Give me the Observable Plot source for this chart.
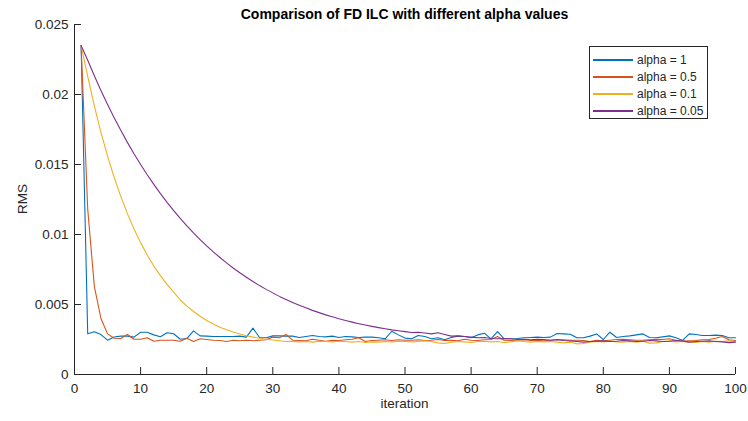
<!DOCTYPE html>
<html>
<head>
<meta charset="utf-8">
<script src="https://cdn.jsdelivr.net/npm/d3@7"></script>
<script src="https://cdn.jsdelivr.net/npm/@observablehq/plot@0.6"></script>
<style>
  html, body { margin: 0; padding: 0; background: #fff; }
  #wrap { position: relative; width: 748px; height: 421px; font-family: "Liberation Sans", Arial, Helvetica, sans-serif; color: #262626; }
  #title { position: absolute; left: 74px; width: 661px; top: 6px; text-align: center; font-weight: bold; font-size: 14px; color: #000; }
  #xlabel { position: absolute; left: 74px; width: 661px; top: 396px; text-align: center; font-size: 13.5px; }
  #ylabel { position: absolute; left: 22px; top: 199px; transform: translate(-50%, -50%) rotate(-90deg); font-size: 13.5px; white-space: nowrap; }
  #legend { position: absolute; left: 589px; top: 46px; width: 119px; height: 73px; border: 1px solid #262626; background: #fff; box-sizing: border-box; padding-top: 4px; }
  .item { display: flex; align-items: center; height: 17px; font-size: 12px; white-space: nowrap; }
  .swatch { flex: 0 0 40px; width: 40px; margin-left: 3px; margin-right: 4px; height: 2px; }
</style>
</head>
<body>
<div id="wrap">
  <div id="chart"></div>
  <div id="title">Comparison of FD ILC with different alpha values</div>
  <div id="xlabel">iteration</div>
  <div id="ylabel">RMS</div>
  <div id="legend"></div>
</div>
<script>
const seriesNames = ["alpha = 1", "alpha = 0.5", "alpha = 0.1", "alpha = 0.05"];
const seriesColors = ["#0072BD", "#D95319", "#EDB120", "#7E2F8E"];
const xTicks = [0, 10, 20, 30, 40, 50, 60, 70, 80, 90, 100];
const yTicks = [0, 0.005, 0.01, 0.015, 0.02, 0.025];

const alpha1 = [0.0235,0.00291,0.00305,0.00285,0.00245,0.00268,0.00274,0.00274,0.00267,0.00302,
0.00302,0.00283,0.00270,0.00298,0.00291,0.00252,0.00257,0.00312,0.00276,0.00274,
0.00271,0.00271,0.00271,0.00271,0.00274,0.00267,0.00331,0.00264,0.00262,0.00276,
0.00276,0.00274,0.00274,0.00264,0.00271,0.00278,0.00271,0.00269,0.00274,0.00264,
0.00271,0.00269,0.00264,0.00267,0.00267,0.00262,0.00255,0.00309,0.00283,0.00260,
0.00255,0.00279,0.00271,0.00255,0.00262,0.00248,0.00264,0.00274,0.00271,0.00262,
0.00283,0.00295,0.00255,0.00307,0.00255,0.00255,0.00257,0.00262,0.00264,0.00267,
0.00264,0.00267,0.00293,0.00290,0.00288,0.00262,0.00262,0.00274,0.00290,0.00250,
0.00302,0.00264,0.00271,0.00276,0.00283,0.00290,0.00264,0.00262,0.00269,0.00276,
0.00262,0.00243,0.00290,0.00286,0.00279,0.00279,0.00281,0.00279,0.00262,0.00262];

const alpha05 = [0.0235,0.0118,0.0063,0.0040,0.0029,0.00259,0.00257,0.00286,0.00252,0.00252,
0.00262,0.00238,0.00245,0.00245,0.00245,0.00238,0.00259,0.00236,0.00255,0.00250,
0.00245,0.00243,0.00236,0.00245,0.00241,0.00245,0.00241,0.00245,0.00248,0.00267,
0.00262,0.00286,0.00245,0.00243,0.00241,0.00252,0.00245,0.00238,0.00245,0.00243,
0.00248,0.00252,0.00262,0.00236,0.00243,0.00245,0.00248,0.00243,0.00248,0.00245,
0.00245,0.00248,0.00243,0.00245,0.00250,0.00243,0.00245,0.00241,0.00252,0.00245,
0.00243,0.00248,0.00250,0.00271,0.00245,0.00243,0.00245,0.00248,0.00243,0.00245,
0.00241,0.00245,0.00250,0.00248,0.00245,0.00245,0.00243,0.00236,0.00245,0.00241,
0.00245,0.00250,0.00252,0.00248,0.00245,0.00245,0.00248,0.00252,0.00250,0.00255,
0.00245,0.00238,0.00241,0.00243,0.00248,0.00250,0.00259,0.00271,0.00248,0.00243];

const alpha01 = [0.0235,0.02129,0.01919,0.01730,0.01560,0.01408,0.01272,0.01149,0.01040,0.00942,
0.00854,0.00775,0.00706,0.00644,0.00589,0.00532,0.00488,0.00450,0.00416,0.00386,
0.00361,0.00338,0.00319,0.00303,0.00289,0.00277,0.00267,0.00259,0.00252,0.00246,
0.00241,0.00236,0.00238,0.00233,0.00236,0.00231,0.00238,0.00236,0.00233,0.00238,
0.00236,0.00231,0.00236,0.00229,0.00233,0.00231,0.00236,0.00233,0.00238,0.00236,
0.00233,0.00236,0.00240,0.00236,0.00226,0.00221,0.00231,0.00236,0.00233,0.00229,
0.00236,0.00238,0.00233,0.00236,0.00229,0.00233,0.00240,0.00236,0.00231,0.00236,
0.00233,0.00236,0.00231,0.00226,0.00231,0.00219,0.00221,0.00231,0.00236,0.00233,
0.00238,0.00233,0.00231,0.00236,0.00231,0.00238,0.00224,0.00226,0.00236,0.00240,
0.00233,0.00236,0.00231,0.00229,0.00236,0.00231,0.00238,0.00236,0.00240,0.00236];

const alpha005 = [0.0235,0.02245,0.02134,0.02029,0.01929,0.01834,0.01744,0.01658,0.01577,0.01500,
0.01427,0.01358,0.01292,0.01230,0.01171,0.01115,0.01062,0.01011,0.00964,0.00919,
0.00876,0.00836,0.00797,0.00761,0.00727,0.00695,0.00664,0.00635,0.00608,0.00583,
0.00558,0.00536,0.00515,0.00495,0.00476,0.00458,0.00442,0.00426,0.00412,0.00398,
0.00386,0.00374,0.00363,0.00353,0.00344,0.00335,0.00327,0.00319,0.00313,0.00306,
0.00300,0.00302,0.00296,0.00290,0.00298,0.00286,0.00274,0.00276,0.00271,0.00267,
0.00262,0.00264,0.00257,0.00255,0.00257,0.00255,0.00250,0.00252,0.00248,0.00252,
0.00250,0.00245,0.00248,0.00243,0.00240,0.00236,0.00231,0.00236,0.00238,0.00240,
0.00236,0.00238,0.00243,0.00240,0.00236,0.00238,0.00243,0.00240,0.00236,0.00238,
0.00243,0.00240,0.00231,0.00236,0.00238,0.00240,0.00236,0.00233,0.00228,0.00231];

const seriesValues = [alpha1, alpha05, alpha01, alpha005];
const data = seriesNames.flatMap((name, s) =>
  seriesValues[s].map((v, i) => ({iteration: i + 1, rms: v, series: name})));

const W = 748, H = 421, mL = 74, mR = 13, mT = 24, mB = 47;
const tickLen = 7;
const axisColor = "#262626";

const chart = Plot.plot({
  width: W, height: H,
  marginLeft: mL, marginRight: mR, marginTop: mT, marginBottom: mB,
  style: {fontFamily: "'Liberation Sans', Arial, Helvetica, sans-serif", fontSize: "13.5px", color: "#262626", background: "#fff"},
  x: {domain: [0, 100], label: null},
  y: {domain: [0, 0.025], label: null},
  color: {domain: seriesNames, range: seriesColors},
  marks: [
    Plot.axisX({ticks: xTicks, tickSize: 0, tickPadding: 9, tickFormat: d => String(d), label: null}),
    Plot.axisY({ticks: yTicks, tickSize: 0, tickPadding: 6, tickFormat: d => String(d), label: null}),
    Plot.line(data, {x: "iteration", y: "rms", z: "series", stroke: "series", strokeWidth: 1.1}),
    Plot.tickY(yTicks, {y: d => d, stroke: axisColor, strokeWidth: 1, insetRight: W - mL - mR - tickLen}),
    Plot.tickX(xTicks, {x: d => d, stroke: axisColor, strokeWidth: 1, insetTop: H - mT - mB - tickLen}),
    Plot.ruleX([0], {stroke: axisColor, strokeWidth: 1}),
    Plot.ruleY([0], {stroke: axisColor, strokeWidth: 1})
  ]
});
document.getElementById("chart").appendChild(chart);

const legend = document.getElementById("legend");
seriesNames.forEach((name, i) => {
  const item = document.createElement("div");
  item.className = "item";
  const sw = document.createElement("span");
  sw.className = "swatch";
  sw.style.backgroundColor = seriesColors[i];
  const label = document.createElement("span");
  label.textContent = name;
  item.appendChild(sw);
  item.appendChild(label);
  legend.appendChild(item);
});
</script>
</body>
</html>
